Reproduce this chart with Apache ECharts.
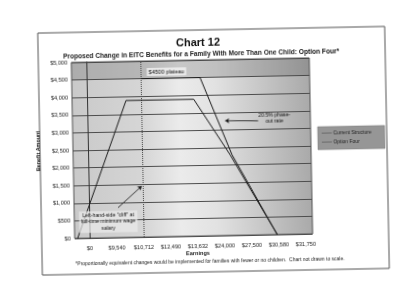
<!DOCTYPE html>
<html><head><meta charset="utf-8">
<script src="https://cdn.jsdelivr.net/npm/echarts@6/dist/echarts.min.js"></script>
<style>
html,body{margin:0;padding:0;background:#fff;overflow:hidden}
#c{width:400px;height:307px;transform:rotate(-1.1deg);transform-origin:200px 150px}
</style>
</head><body><div id="c"></div>
<script>
// ---- data ----
const earningsLabels = ['$0','$9,540','$10,712','$12,490','$13,632','$24,000','$27,500','$30,580','$31,750'];
const labelPositions = [0,1,2,3,4,5,6,7,8];
// current-law benefit schedule (x = position on the not-to-scale earnings axis)
const currentX = [-0.45, 1.44, 3.95, 5.26, 6.95];
const currentY = [0, 3888, 3888, 2290, 0];
// Option Four schedule: cliff at full-time minimum wage, $4500 plateau, 20.5% phase-out
const optionX = [2, 4.2, 5.33, 6.95];
const optionY = [4500, 4500, 2290, 0];
const cliffX = 2;
const plateauTop = [4500, 5000];

const FONT = '"Liberation Sans", Arial, sans-serif';
const chart = echarts.init(document.getElementById('c'), null, {renderer:'canvas'});
const zip = (xs, ys) => xs.map((x,i)=>[x, ys[i]]);

chart.setOption({
  animation:false,
  backgroundColor:'#fff',
  textStyle:{fontFamily:FONT},
  title:[
    {text:'Chart 12', left:'center', top:32, textStyle:{fontSize:11, fontWeight:'bold', color:'#111', fontFamily:FONT}},
    {text:'{n|Proposed Change in EITC Benefits for a Family With More Than One Child: }{b|Option Four*}',
     left:198, textAlign:'center', top:46,
     textStyle:{rich:{n:{fontSize:6.6, color:'#222', fontFamily:FONT}, b:{fontSize:6.6, fontWeight:'bold', color:'#111', fontFamily:FONT}}}}
  ],
  grid:{left:73, right:89, top:60, bottom:71, show:true, borderColor:'#555', borderWidth:1,
    backgroundColor:new echarts.graphic.LinearGradient(0,0,1,0,[
      {offset:0,color:'#c9c9c9'},{offset:0.3,color:'#d6d6d6'},{offset:0.45,color:'#ebebeb'},
      {offset:0.6,color:'#e2e2e2'},{offset:0.8,color:'#c6c6c6'},{offset:1,color:'#a9a9a9'}])},
  xAxis:{type:'value', min:-0.56, max:8.26,
    axisLine:{show:false}, axisTick:{show:false}, splitLine:{show:false},
    axisLabel:{customValues:labelPositions, formatter:v=>earningsLabels[Math.round(v)], fontSize:5.6, color:'#222', margin:7, fontFamily:FONT}},
  yAxis:{type:'value', min:0, max:5000, interval:500,
    axisLine:{show:true, lineStyle:{color:'#333'}}, axisTick:{show:false},
    splitLine:{lineStyle:{color:'#4d4d4d', width:1}},
    axisLabel:{formatter:v=>'$'+v.toLocaleString('en-US'), fontSize:5.6, color:'#222', margin:4, fontFamily:FONT},
    name:'Benefit Amount', nameLocation:'middle', nameRotate:90, nameGap:24,
    nameTextStyle:{fontSize:5.4, color:'#222', fontWeight:'bold', fontFamily:FONT}},
  series:[
    {type:'line', name:'Current Structure', data:zip(currentX,currentY), symbol:'none',
     lineStyle:{color:'#1a1a1a', width:1}, z:5,
     markArea:{silent:true, itemStyle:{color:'rgba(60,60,60,0.2)'}, data:[[{yAxis:plateauTop[0]},{yAxis:plateauTop[1]}]]},
     markLine:{silent:true, symbol:['none','arrow'], symbolSize:4, label:{show:false},
       lineStyle:{color:'#111', width:0.8, type:'solid'},
       data:[
         [{coord:[1.07, 850]},{coord:[1.96, 1450]}],
         [{coord:[6.32, 3240]},{coord:[5.1, 3260]}]
       ]}},
    {type:'line', name:'Option Four', data:zip(optionX,optionY), symbol:'none',
     lineStyle:{color:'#1a1a1a', width:1}, z:5,
     markLine:{silent:true, symbol:'none', label:{show:false},
       lineStyle:{color:'#444', width:1, type:'dotted'},
       data:[{xAxis:cliffX}]}}
  ],
  graphic:[
    {type:'rect', shape:{x:40, y:30, width:347, height:242}, style:{fill:'none', stroke:'#555', lineWidth:1}, z:-1},
    {type:'text', x:168, y:71, style:{text:'$4500 plateau', fontSize:5.6, fill:'#111', align:'center', verticalAlign:'middle', backgroundColor:'rgba(245,245,245,0.75)', padding:[1,2], fontFamily:FONT}, z:10},
    {type:'text', x:275, y:120, style:{text:'20.5% phase-\nout rate', fontSize:5.2, fill:'#111', align:'center', verticalAlign:'middle', lineHeight:6, fontFamily:FONT}, z:10},
    {type:'text', x:107, y:220, style:{text:'Left-hand-side "cliff" at\nfull-time minimum wage\nsalary', fontSize:5.2, lineHeight:6.5, fill:'#111', align:'center', verticalAlign:'middle', backgroundColor:'rgba(235,235,235,0.7)', padding:[1,2], fontFamily:FONT}, z:10},
    {type:'text', x:196, y:253, style:{text:'Earnings', fontSize:5.6, fontWeight:'bold', fill:'#222', align:'center', verticalAlign:'middle', fontFamily:FONT}},
    {type:'text', x:208, y:262, style:{text:'*Proportionally equivalent changes would be implemented for families with fewer or no children.  Chart not drawn to scale.', fontSize:5, fill:'#222', align:'center', verticalAlign:'middle', fontFamily:FONT}},
    {type:'rect', shape:{x:318, y:129, width:67, height:23}, style:{fill:'#969696', stroke:'#777', lineWidth:0.5}},
    {type:'text', x:322, y:136, style:{text:'—— Current Structure', fontSize:5, fill:'#222', verticalAlign:'middle', fontFamily:FONT}},
    {type:'text', x:322, y:145, style:{text:'—— Option Four', fontSize:5, fill:'#222', verticalAlign:'middle', fontFamily:FONT}}
  ]
});
</script>
</body></html>
